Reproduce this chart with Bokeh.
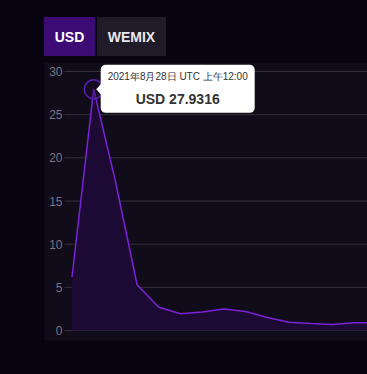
import re
import pandas as pd
from bokeh.plotting import figure
from bokeh.models import ColumnDataSource, Range1d, BoxAnnotation, Label, Div
from bokeh.layouts import column
from bokeh.core.properties import value
from bokeh.embed import file_html
from bokeh.resources import INLINE

# ---- data ----
dates = ["2021-08-27", "2021-08-28", "2021-08-29", "2021-08-30", "2021-08-31",
         "2021-09-01", "2021-09-02", "2021-09-03", "2021-09-04", "2021-09-05",
         "2021-09-06", "2021-09-07", "2021-09-08", "2021-09-09", "2021-09-10"]
usd = [6.2, 27.9316, 17.3, 5.3, 2.7, 1.95, 2.15, 2.5, 2.2, 1.5, 0.95, 0.8, 0.7, 0.9, 0.9]
y_ticks = [0, 5, 10, 15, 20, 25, 30]
buttons = ["USD", "WEMIX"]
tip_date = "2021年8月28日 UTC 上午12:00"
tip_value = "USD 27.9316"

PAGE = "#08040f"
PANEL = "#110c19"
LINE = "#7b22d9"
FILL = "#1d0a34"
GRID = "#35303d"
TICK = "#7a7382"
FONT = "Liberation Sans"

DAY = 86400000.0
xs = [pd.Timestamp(d).value / 1e6 for d in dates]
src = ColumnDataSource(dict(x=xs, y=usd, y0=[0] * len(usd)))

# layout numbers (Bokeh's page template has no body margin)
W = 367
DIV_H = 62
FH = 374 - DIV_H
px_day = 21.7
px_unit = 8.633
x_start = xs[0] - 71.5 / px_day * DAY          # canvas left edge
x_end = x_start + W / px_day * DAY
y_start = -(374 - 330) / px_unit               # canvas bottom edge
y_end = y_start + FH / px_unit

def dx(px):
    return px / px_day * DAY

def dy(px):
    return px / px_unit

p = figure(width=W, height=FH, output_backend="svg", toolbar_location=None,
           x_range=Range1d(x_start, x_end), y_range=Range1d(y_start, y_end),
           min_border=0)
p.background_fill_color = PAGE
p.border_fill_color = PAGE
p.outline_line_color = None
p.xaxis.visible = False
p.yaxis.visible = False
p.xgrid.visible = False
p.ygrid.visible = False

# chart panel
p.add_layout(BoxAnnotation(left=x_start + dx(44), bottom=y_start + dy(34),
                           fill_color=PANEL, fill_alpha=1, line_color=None,
                           level="underlay"))

# grid lines
gx0 = x_start + dx(64)
p.segment(x0=[gx0] * len(y_ticks), x1=[x_end] * len(y_ticks), y0=y_ticks, y1=y_ticks,
          line_color=GRID, line_width=1)
# tick labels
p.text(x=[x_start + dx(62)] * len(y_ticks), y=y_ticks, text=[str(t) for t in y_ticks],
       text_font=value(FONT), text_font_size="12px", text_color=TICK,
       text_align="right", text_baseline="middle")

# area + line
p.varea(x="x", y1="y0", y2="y", source=src, fill_color=FILL, fill_alpha=1)
p.line(x="x", y="y", source=src, line_color=LINE, line_width=1.5)

# hover marker
pk = 1
px_, py_ = xs[pk], usd[pk]
p.scatter(x=[px_], y=[py_], size=19, fill_color=FILL, fill_alpha=0.3,
          line_color="#5b1fb8", line_width=1.5)

# tooltip
box = BoxAnnotation(left=px_ + dx(7), right=px_ + dx(161), top=py_ + dy(24.5),
                    bottom=py_ - dy(23.5), fill_color="white", fill_alpha=1,
                    line_color=None, border_radius=5)
p.add_layout(box)
p.patch(x=[px_ + dx(2.5), px_ + dx(8), px_ + dx(8)],
        y=[py_, py_ + dy(6), py_ - dy(6)], fill_color="white", line_color=None)
cx = px_ + dx(84)
p.add_layout(Label(x=cx, y=py_, y_offset=13, text=tip_date, text_font=FONT,
                   text_font_size="10px", text_color="#333333",
                   text_align="center", text_baseline="middle"))
p.add_layout(Label(x=cx, y=py_, y_offset=-9.5, text=tip_value, text_font=FONT,
                   text_font_size="14px", text_font_style="bold", text_color="#333333",
                   text_align="center", text_baseline="middle"))

btn_style = ("position:absolute;top:17px;height:39px;display:flex;align-items:center;"
             "justify-content:center;font:bold 14px 'Liberation Sans',Arial,sans-serif;")
html = ('<div style="position:relative;width:%dpx;height:%dpx;background:%s;">' % (W, DIV_H, PAGE)
        + '<div style="%sleft:44px;width:51px;background:#3c0b74;color:#ffffff;">%s</div>'
        % (btn_style, buttons[0])
        + '<div style="%sleft:97px;width:69px;background:#1f1b28;color:#ebe8f0;">%s</div>'
        % (btn_style, buttons[1])
        + '</div>')
div = Div(text=html, width=W, height=DIV_H, margin=0)

layout = column(div, p, spacing=0)
out = file_html(layout, INLINE)
css = "<style>html,body{background:%s !important;overflow:hidden;}</style>" % PAGE
out = out.replace("</head>", css + "</head>", 1)
out = re.sub(r"<body([^>]*)>", r'<body\1 style="background:%s;">' % PAGE, out, count=1)
open("out.html", "w").write(out)
